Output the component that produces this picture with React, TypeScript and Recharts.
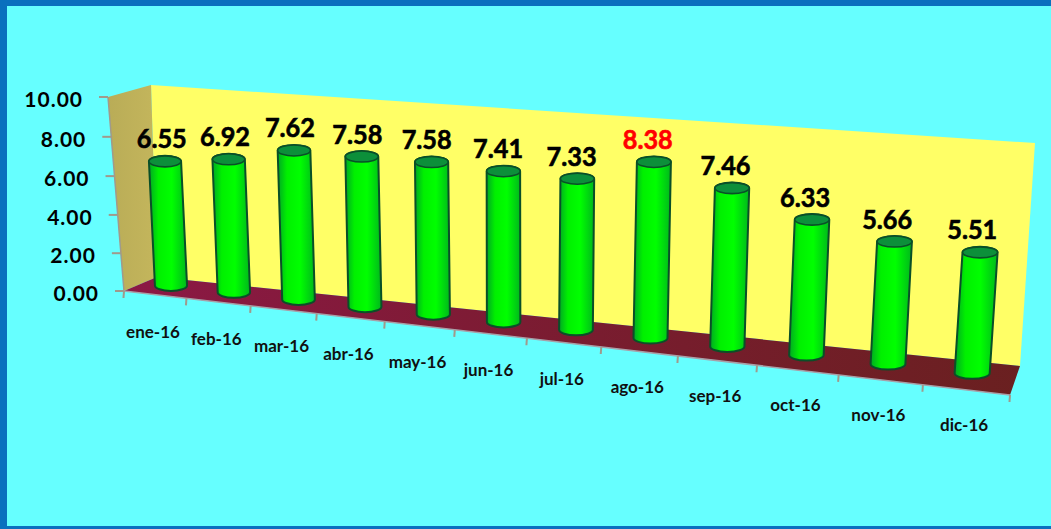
import { BarChart, Bar, XAxis, YAxis, LabelList, Customized } from "recharts";

const months = ["ene-16", "feb-16", "mar-16", "abr-16", "may-16", "jun-16", "jul-16", "ago-16", "sep-16", "oct-16", "nov-16", "dic-16"];
const rates = [6.55, 6.92, 7.62, 7.58, 7.58, 7.41, 7.33, 8.38, 7.46, 6.33, 5.66, 5.51];
const yTicks = [0, 2, 4, 6, 8, 10];
const highlightMonth = "ago-16";

const W = 1051;
const H = 529;
// axes need 1px of room or recharts skips their ticks
const AXIS = 1;
const PLOT_W = W - AXIS;
const PLOT_H = H - AXIS;
const FONT = "Lato, sans-serif";

type Pt = [number, number];
type Quad = [Pt, Pt, Pt, Pt]; // top-left, top-right, bottom-right, bottom-left

// the picture is a 3D view, so every plane is a quad in perspective
const backWall: Quad = [[151, 85], [1035, 143], [1020, 366], [157, 277]];
const midPlane: Quad = [[130, 91], [1031, 152], [1015, 380], [140, 284]];
const frontPlane: Quad = [[108, 97], [1026, 165], [1010, 395], [124, 291]];

// unit square -> quad homography
function homography([p0, p1, p2, p3]: Quad) {
  const dx1 = p1[0] - p2[0], dx2 = p3[0] - p2[0], dx3 = p0[0] - p1[0] + p2[0] - p3[0];
  const dy1 = p1[1] - p2[1], dy2 = p3[1] - p2[1], dy3 = p0[1] - p1[1] + p2[1] - p3[1];
  const den = dx1 * dy2 - dx2 * dy1;
  const g = (dx3 * dy2 - dx2 * dy3) / den;
  const h = (dx1 * dy3 - dx3 * dy1) / den;
  const a = p1[0] - p0[0] + g * p1[0], b = p3[0] - p0[0] + h * p3[0];
  const d = p1[1] - p0[1] + g * p1[1], e = p3[1] - p0[1] + h * p3[1];
  return (u: number, v: number): Pt => {
    const w = g * u + h * v + 1;
    return [(a * u + b * v + p0[0]) / w, (d * u + e * v + p0[1]) / w];
  };
}

const onMid = homography(midPlane);
const onFront = homography(frontPlane);
const toU = (x: number) => (x - AXIS) / PLOT_W;
const toV = (y: number) => y / PLOT_H;

const poly = (pts: Pt[]) => pts.map((p) => p.join(",")).join(" ");

function Planes() {
  const [fTL, , fBR, fBL] = frontPlane;
  const [bTL, bTR, bBR, bBL] = backWall;
  return (
    <g>
      <defs>
        <linearGradient id="sideWall" x1="0" y1="0" x2="1" y2="0">
          <stop offset="0" stopColor="#B9AC57" />
          <stop offset="1" stopColor="#C4B65C" />
        </linearGradient>
        <linearGradient id="floor" x1="0" y1="0" x2="1" y2="0">
          <stop offset="0" stopColor="#8C1845" />
          <stop offset="0.5" stopColor="#7A1C30" />
          <stop offset="1" stopColor="#6A2020" />
        </linearGradient>
        <linearGradient id="barSide" x1="0" y1="0" x2="1" y2="0">
          <stop offset="0" stopColor="#00A824" />
          <stop offset="0.25" stopColor="#00F000" />
          <stop offset="0.6" stopColor="#00FF00" />
          <stop offset="1" stopColor="#00B81C" />
        </linearGradient>
      </defs>
      <polygon points={poly([bTL, bTR, bBR, bBL])} fill="#FFFF66" />
      <polygon points={poly([fTL, bTL, bBL, fBL])} fill="url(#sideWall)" />
      <polygon points={poly([fBL, bBL, bBR, fBR])} fill="url(#floor)" />
      <line x1={fTL[0]} y1={fTL[1]} x2={fBL[0]} y2={fBL[1]} stroke="#A09A8C" strokeWidth={1.5} />
      <line x1={fBL[0]} y1={fBL[1]} x2={fBR[0]} y2={fBR[1]} stroke="#A8A0A8" strokeWidth={1.5} />
    </g>
  );
}

function YTick({ y, payload }: any) {
  const [px, py] = onFront(0, toV(y));
  return (
    <g>
      <line x1={px - 9} y1={py} x2={px} y2={py} stroke="#A09A8C" strokeWidth={2} />
      <text x={px - 25} y={py + 10} textAnchor="end" fontFamily={FONT} fontWeight={700} fontSize={21} letterSpacing={1} fill="#000">
        {payload.value.toFixed(2)}
      </text>
    </g>
  );
}

function XTick({ x, payload }: any) {
  const band = 1 / months.length;
  const u = toU(x);
  const mark = (t: number) => {
    const [mx, my] = onFront(t, 1);
    return <line x1={mx} y1={my} x2={mx - 0.5} y2={my + 7} stroke="#A09A8C" strokeWidth={2} />;
  };
  const [cx, cy] = onFront(u, 1);
  return (
    <g>
      {payload.index === 0 && mark(0)}
      {mark(u + band / 2)}
      <text x={cx - 2} y={cy + 43 - 2 * u} textAnchor="middle" fontFamily={FONT} fontWeight={700} fontSize={17} fill="#101010">
        {payload.value}
      </text>
    </g>
  );
}

function Cylinder({ x, y, width, height }: any) {
  const u = toU(x + width / 2);
  const [tx, ty] = onMid(u, toV(y));
  const [bx, by] = onMid(u, toV(y + height));
  const rx = (width / 2) * (1 + 0.1 * u);
  const ry = 5.5;
  const side = `M${tx - rx},${ty} L${bx - rx},${by - 2} A${rx},${ry} 0 0 0 ${bx + rx},${by - 2} L${tx + rx},${ty} A${rx},${ry} 0 0 0 ${tx - rx},${ty} Z`;
  return (
    <g>
      <path d={side} fill="url(#barSide)" stroke="#0A4F28" strokeWidth={2} />
      <ellipse cx={tx} cy={ty} rx={rx} ry={ry} fill="#0C8F3A" stroke="#0A4F28" strokeWidth={1.6} />
    </g>
  );
}

function ValueLabel({ x, y, width, value, index }: any) {
  const u = toU(x + width / 2);
  const [tx, ty] = onMid(u, toV(y));
  const color = months[index] === highlightMonth ? "#FF0000" : "#000";
  return (
    <text x={tx - 3 - 5 * u} y={ty - 13} textAnchor="middle" fontFamily={FONT} fontWeight={700} fontSize={26} fill={color} stroke={color} strokeWidth={0.6} textLength={50} lengthAdjust="spacingAndGlyphs">
      {Number(value).toFixed(2)}
    </text>
  );
}

const rows = months.map((month, i) => ({ month, rate: rates[i] }));

export default function App() {
  return (
    <div style={{ position: "absolute", left: 0, top: 0, width: W, height: H, background: "#66FFFF", boxSizing: "border-box", borderTop: "6px solid #0A70BE", borderLeft: "7px solid #0A70BE", borderBottom: "3px solid #0A70BE", overflow: "hidden" }}>
      <div style={{ position: "absolute", left: -7, top: -6 }}>
        <BarChart width={W} height={H} data={rows} margin={{ top: 0, right: 0, bottom: 0, left: 0 }} barSize={32}>
          <Customized component={Planes} />
          <XAxis dataKey="month" height={AXIS} axisLine={false} tickLine={false} interval={0} tick={<XTick />} />
          <YAxis width={AXIS} domain={[0, 10]} ticks={yTicks} axisLine={false} tickLine={false} interval={0} tick={<YTick />} />
          <Bar dataKey="rate" isAnimationActive={false} shape={<Cylinder />}>
            <LabelList dataKey="rate" content={<ValueLabel />} />
          </Bar>
        </BarChart>
      </div>
    </div>
  );
}
